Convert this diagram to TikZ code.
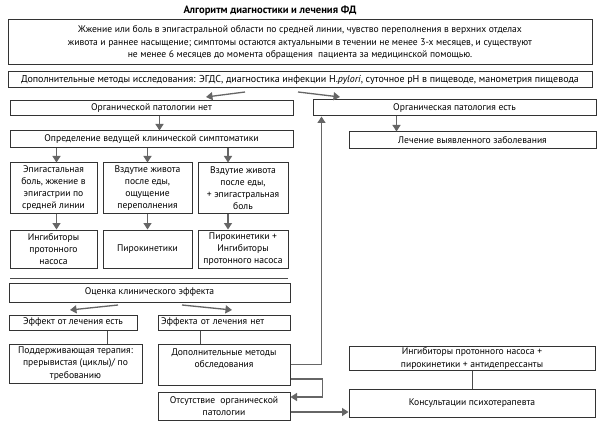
\documentclass[tikz,border=0pt]{standalone}
\usepackage{fontspec}
\setmainfont{PT Sans}
\usetikzlibrary{arrows.meta}
\begin{document}
\begin{tikzpicture}[x=1pt,y=-1pt,
        box/.style={draw=black!80,line width=1pt,align=center,inner sep=1pt,
            font=\fontsize{9.6}{12.2}\selectfont},
        arr/.style={draw=black!60,line width=1.3pt,-{Triangle[width=8pt,length=6.5pt]}},
        ln/.style={draw=black!70,line width=1pt}]
    \useasboundingbox (0,0) rectangle (600,425);
    \node (title) at (270,11) {\fontsize{10.6}{12}\selectfont\bfseries Алгоритм диагностики и лечения ФД};
    \node[box,minimum width=584,minimum height=45] (top) at (300,42.5)
        {Жжение или боль в эпигастральной области по средней линии, чувство переполнения в верхних отделах\\
         живота и раннее насыщение; симптомы остаются актуальными в течении не менее 3-х месяцев, и существуют\\
         не менее 6 месяцев до момента обращения\ \ пациента за медицинской помощью.};
    \node[box,minimum width=584,minimum height=16,font=\fontsize{10}{12}\selectfont] (meth) at (300,80)
        {Дополнительные методы исследования: ЭГДС, диагностика инфекции H.\textit{pylori}, суточное pH в пищеводе, манометрия пищевода};
    \node[box,minimum width=283,minimum height=15] (nopat) at (151.5,108.5) {Органической патологии нет};
    \node[box,minimum width=283,minimum height=16] (pat) at (454.5,108) {Органическая патология есть};
    \node[box,minimum width=283,minimum height=17] (lead) at (151.5,139.5) {Определение ведущей клинической симптоматики};
    \node[box,minimum width=247,minimum height=17] (cure) at (472.5,140.5) {Лечение выявленного заболевания};
    % симптомы и лечение
    \node[box,minimum width=87,minimum height=50] (sa) at (53.5,188) {Эпигастальная\\ боль, жжение в\\ эпигастрии по\\ средней линии};
    \node[box,minimum width=89,minimum height=50] (sb) at (147.5,188) {Вздутие живота\\ после еды,\\ ощущение\\ переполнения};
    \node[box,minimum width=90,minimum height=50] (sc) at (243,188) {Вздутие живота\\ после еды,\\ + эпигастральная\\ боль};
    \node[box,minimum width=87,minimum height=38] (ta) at (53.5,249) {Ингибиторы\\ протонного\\ насоса};
    \node[box,minimum width=89,minimum height=38] (tb) at (147.5,249) {Пирокинетики};
    \node[box,minimum width=90,minimum height=38] (tc) at (243,249) {Пирокинетики +\\ Ингибиторы\\ протонного насоса};
    \coordinate (sepl) at (10,278);
    \coordinate (sepr) at (288,278);
    \node[box,minimum width=281,minimum height=19] (eval) at (149.5,292.5) {Оценка клинического эффекта};
    \node[box,minimum width=128,minimum height=15] (yes) at (73,322.5) {Эффект от лечения есть};
    \node[box,minimum width=132,minimum height=15,text width=126,align=left] (no) at (224,322.5) {Эффекта от лечения нет};
    \node[box,minimum width=133,minimum height=39] (keep) at (75.5,363.5) {Поддерживающая терапия:\\ прерывистая (циклы)/ по\\ требованию};
    \node[box,minimum width=132,minimum height=41] (extra) at (224,364.5) {Дополнительные методы\\ обследования\\ ~};
    \node[box,minimum width=132,minimum height=28] (noorg) at (224,406) {Отсутствие\ \ органической\\ патологии};
    \node[box,minimum width=246,minimum height=23] (mix) at (472,358.5) {Ингибиторы протонного насоса +\\ пирокинетики + антидепрессанты};
    \node[box,minimum width=246,minimum height=28] (psy) at (472,403) {Консультации психотерапевта};
    % стрелки
    \coordinate (m1) at (245,92); \coordinate (m2) at (206,97);
    \coordinate (m3) at (298,92); \coordinate (m4) at (340,97);
    \coordinate (e1) at (118,305); \coordinate (e2) at (70,310);
    \coordinate (e3) at (182,305); \coordinate (e4) at (232,310);
    \draw[arr] (m1) -- (m2);
    \draw[arr] (m3) -- (m4);
    \draw[arr] ([xshift=8pt]nopat.south) -- ([xshift=8pt]lead.north);
    \draw[arr] ([xshift=-58pt]pat.south) -- ([xshift=-58pt]pat.south |- cure.north);
    \draw[arr] ([xshift=3pt]lead.south -| sa) -- ([xshift=3pt]sa.north);
    \draw[arr] (lead.south -| sb) -- (sb.north);
    \draw[arr] ([xshift=-15pt]lead.south -| sc) -- ([xshift=-15pt]sc.north);
    \draw[arr] ([xshift=3pt]sa.south) -- ([xshift=3pt]ta.north);
    \draw[arr] (sb.south) -- (tb.north);
    \draw[arr] ([xshift=-15pt]sc.south) -- ([xshift=-15pt]tc.north);
    \draw[ln] (sepl) -- (sepr);
    \draw[arr] (e1) -- (e2);
    \draw[arr] (e3) -- (e4);
    \draw[ln] ([xshift=34pt]yes.south) -- ([xshift=34pt]yes.south |- keep.north);
    \draw[ln] ([xshift=-24pt]no.south) -- ([xshift=-24pt]no.south |- extra.north);
    \draw[arr] (extra.east) -| ([xshift=9pt]pat.south west);
    \draw[arr] ([yshift=-14.5pt]extra.east) -- ++(32,0) |- ([yshift=9pt]noorg.east);
    \coordinate (n1) at ([yshift=-6pt]noorg.east);
    \draw[arr] (n1) -- (n1 -| psy.west);
    \draw[ln] (mix.south) -- (psy.north);
\end{tikzpicture}
\end{document}
